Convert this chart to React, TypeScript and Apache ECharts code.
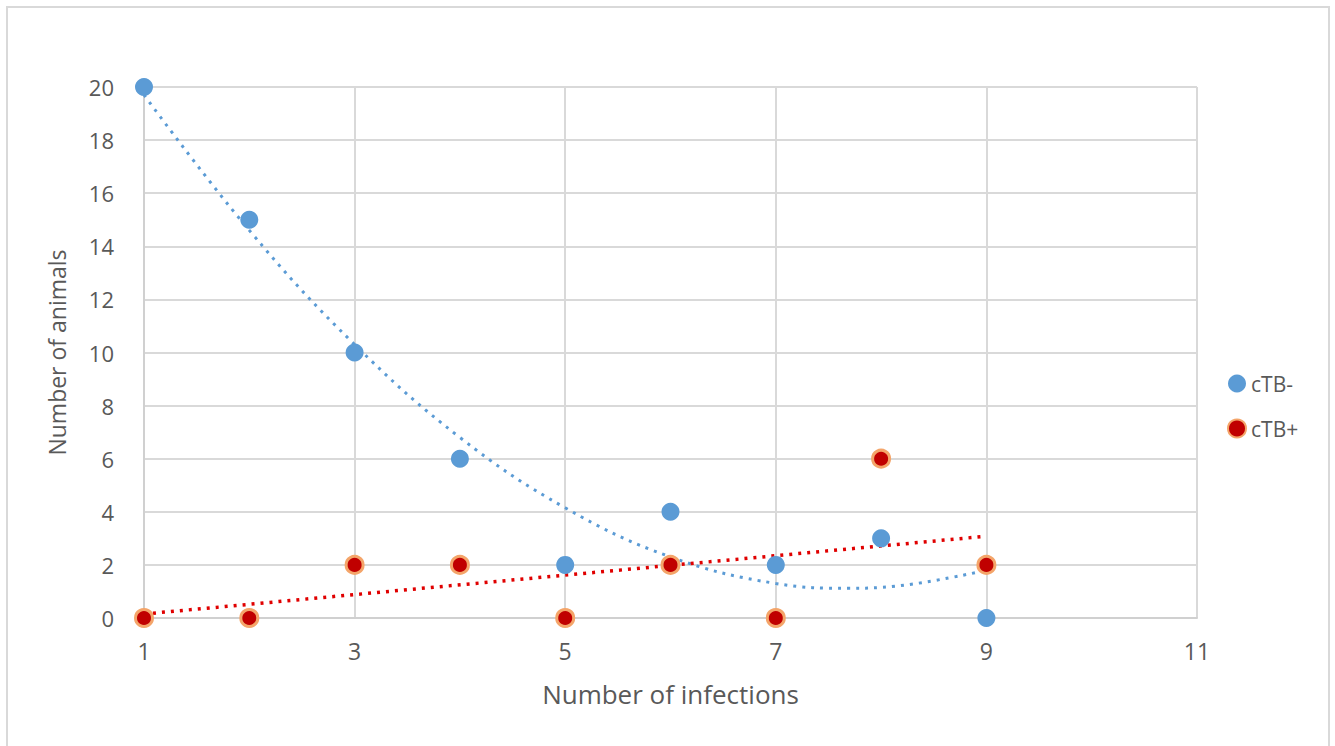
import React, { useEffect, useRef } from "react";
import * as echarts from "echarts";

const xTicks = [1, 3, 5, 7, 9, 11];
const infections = [1, 2, 3, 4, 5, 6, 7, 8, 9];
const ctbNeg = [20, 15, 10, 6, 2, 4, 2, 3, 0];
const ctbPos = [0, 0, 2, 2, 0, 2, 0, 6, 2];
// trendline values
const negTrendX = [1, 2, 3, 4, 5, 6, 7, 7.7, 8, 9];
const negTrendY = [19.7, 14.6, 10.3, 6.8, 4.15, 2.3, 1.3, 1.12, 1.15, 1.8];
const posTrendX = [1, 9];
const posTrendY = [0.15, 3.08];

const FONT = "'Open Sans', sans-serif";
const TXT = "#595959";

export default function App() {
  const ref = useRef<HTMLDivElement>(null);
  useEffect(() => {
    document.body.style.margin = "0";
    const chart = echarts.init(ref.current!, null, { renderer: "svg" });
    const pair = (xs: number[], ys: number[]) => xs.map((x, i) => [x, ys[i]]);
    chart.setOption({
      animation: false,
      backgroundColor: "#fff",
      textStyle: { fontFamily: FONT, color: TXT },
      graphic: [
        {
          type: "rect",
          shape: { x: 7, y: 7, width: 1322, height: 745 },
          style: { fill: "none", stroke: "#d9d9d9", lineWidth: 2 },
          silent: true,
        },
      ],
      grid: { left: 144, right: 138, top: 87, bottom: 128 },
      legend: {
        orient: "vertical",
        left: 1222,
        top: 368,
        itemGap: 24,
        itemWidth: 18,
        itemHeight: 18,
        data: [
          { name: "cTB-", icon: "circle" },
          { name: "cTB+", icon: "circle" },
        ],
        textStyle: { fontFamily: FONT, fontSize: 21, color: TXT },
      },
      xAxis: {
        type: "value",
        min: xTicks[0],
        max: xTicks[xTicks.length - 1],
        interval: 2,
        name: "Number of infections",
        nameLocation: "middle",
        nameGap: 63,
        nameTextStyle: { fontFamily: FONT, fontSize: 26, color: TXT },
        axisLine: { show: true, onZero: false, lineStyle: { color: "#d0d0d0", width: 2 } },
        axisTick: { show: false },
        axisLabel: { fontFamily: FONT, fontSize: 23, color: TXT, margin: 21 },
        splitLine: { show: true, lineStyle: { color: "#d9d9d9", width: 2 } },
      },
      yAxis: {
        type: "value",
        min: 0,
        max: 20,
        interval: 2,
        name: "Number of animals",
        nameLocation: "middle",
        nameGap: 76,
        nameTextStyle: { fontFamily: FONT, fontSize: 23, color: TXT },
        axisLine: { show: true, lineStyle: { color: "#d0d0d0", width: 2 } },
        axisTick: { show: false },
        axisLabel: { fontFamily: FONT, fontSize: 22, color: TXT, margin: 30 },
        splitLine: { show: true, lineStyle: { color: "#d9d9d9", width: 2 } },
      },
      series: [
        {
          name: "negTrend",
          type: "line",
          data: pair(negTrendX, negTrendY),
          smooth: 0.4,
          showSymbol: false,
          lineStyle: { color: "#5b9bd5", width: 3, type: [3, 6] },
          z: 2,
          silent: true,
        },
        {
          name: "posTrend",
          type: "line",
          data: pair(posTrendX, posTrendY),
          showSymbol: false,
          lineStyle: { color: "#e00000", width: 3.5, type: [3, 6] },
          z: 2,
          silent: true,
        },
        {
          name: "cTB-",
          type: "scatter",
          data: pair(infections, ctbNeg),
          symbolSize: 18,
          itemStyle: { color: "#5b9bd5", opacity: 1 },
          z: 3,
        },
        {
          name: "cTB+",
          type: "scatter",
          data: pair(infections, ctbPos),
          symbolSize: 17,
          itemStyle: { color: "#c00000", borderColor: "#f4a56a", borderWidth: 3, opacity: 1 },
          z: 4,
        },
      ],
    });
    return () => chart.dispose();
  }, []);
  return (
    <div
      ref={ref}
      style={{ position: "absolute", left: 0, top: 0, width: 1335, height: 746 }}
    />
  );
}
